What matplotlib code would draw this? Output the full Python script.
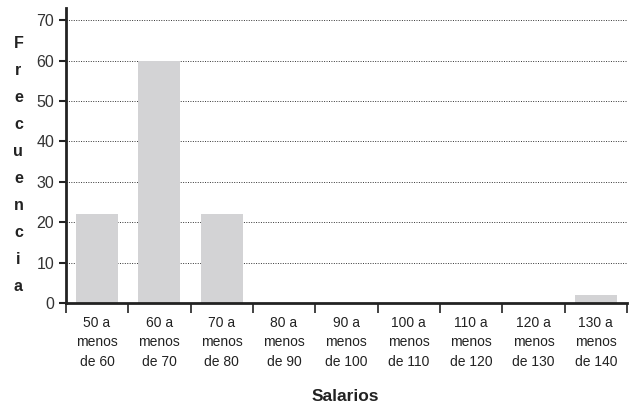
import numpy as np
import matplotlib
matplotlib.use("Agg")
import matplotlib.pyplot as plt

# 数据
categorias = ["50 a\nmenos\nde 60", "60 a\nmenos\nde 70", "70 a\nmenos\nde 80",
              "80 a\nmenos\nde 90", "90 a\nmenos\nde 100", "100 a\nmenos\nde 110",
              "110 a\nmenos\nde 120", "120 a\nmenos\nde 130", "130 a\nmenos\nde 140"]
frecuencias = [22, 60, 22, 0, 0, 0, 0, 0, 2]
y_ticks = [0, 10, 20, 30, 40, 50, 60, 70]

plt.rcParams['font.family'] = ['Liberation Sans', 'DejaVu Sans']

fig = plt.figure(figsize=(6.33, 4.07), dpi=100)
ax = fig.add_axes([0.104, 0.2555, 0.8865, 0.7245])

x = np.arange(len(categorias))
ax.bar(x, frecuencias, width=0.67, color="#d3d3d5", zorder=2)

# 网格线 (点线)
for v in y_ticks[1:]:
    ax.axhline(v, color="#333333", linestyle=(0, (1, 1.5)), linewidth=0.7, zorder=1)

ax.set_xlim(-0.5, len(categorias) - 0.5)
ax.set_ylim(0, 73)
ax.set_yticks(y_ticks)
ax.tick_params(axis="y", labelsize=11.5, length=5, width=1.5, color="#222222",
               labelcolor="#333333")

ax.set_xticks(x)
ax.set_xticklabels(categorias, fontsize=10, linespacing=1.5, color="#222222")
ax.tick_params(axis="x", which="major", length=0, pad=9)
ax.set_xticks(np.arange(-0.5, len(categorias)), minor=True)
ax.tick_params(axis="x", which="minor", length=7, width=1.2, color="#222222")

for s in ["top", "right"]:
    ax.spines[s].set_visible(False)
for s in ["left", "bottom"]:
    ax.spines[s].set_linewidth(2)
    ax.spines[s].set_color("#222222")

# 坐标轴标题
fig.text(0.546, 0.027, "Salarios", fontsize=12.5, fontweight="bold",
         ha="center", va="center", color="#222222")
fig.text(0.029, 0.595, "\n".join("Frecuencia"), fontsize=11.5, fontweight="bold",
         ha="center", va="center", linespacing=2.0, color="#222222")

fig.savefig("out.png", dpi=100)
